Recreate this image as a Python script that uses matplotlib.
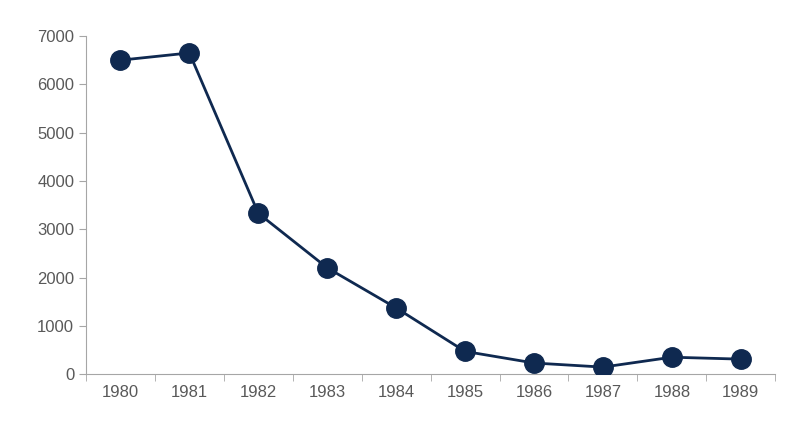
import matplotlib
matplotlib.use("Agg")
import matplotlib.pyplot as plt
import numpy as np

years = ["1980","1981","1982","1983","1984","1985","1986","1987","1988","1989"]
values = [6500, 6650, 3330, 2200, 1370, 470, 230, 145, 350, 310]

plt.rcParams['font.family'] = ['Liberation Sans', 'DejaVu Sans']
fig = plt.figure(figsize=(8, 4.34), dpi=100)
ax = fig.add_axes([0.1075, 0.138, 0.8615, 0.779])
x = np.arange(len(years))
ax.plot(x, values, color='#0f2950', lw=2, marker='o', ms=14, zorder=3)
ax.set_xlim(-0.5, len(years) - 0.5)
ax.set_ylim(0, 7000)
ax.set_yticks(range(0, 7001, 1000))
ax.set_xticks(x)
ax.set_xticklabels(years)
ax.set_xticks(np.arange(-0.5, len(years), 1), minor=True)
ax.tick_params(axis='x', which='major', length=0, pad=8)
ax.tick_params(axis='x', which='minor', length=5, color='#a6a6a6')
ax.tick_params(axis='y', length=5, color='#a6a6a6')
ax.tick_params(labelsize=12, labelcolor='#595959')
for s in ['top', 'right']:
    ax.spines[s].set_visible(False)
for s in ['left', 'bottom']:
    ax.spines[s].set_color('#a6a6a6')
fig.savefig('out.png', dpi=100)
